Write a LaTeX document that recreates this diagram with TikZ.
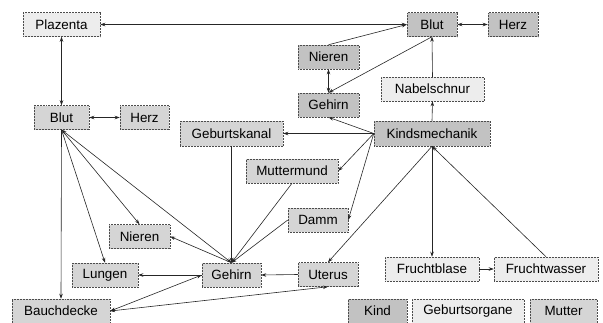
\documentclass[tikz,border=0pt]{standalone}
\usepackage{fontspec}
\setmainfont{Liberation Sans}
\usetikzlibrary{arrows.meta}
\definecolor{kindc}{HTML}{C2C2C2}
\definecolor{mutterc}{HTML}{D5D5D5}
\definecolor{gebc}{HTML}{EDEDED}
\begin{document}
\begin{tikzpicture}[x=1pt,y=-1pt,
  box/.style={draw=black!70, densely dotted, line width=0.5pt, inner sep=0pt,
    minimum height=24pt, font=\fontsize{13.4}{15}\selectfont, text=black},
  kind/.style={box, fill=kindc},
  mutter/.style={box, fill=mutterc},
  geb/.style={box, fill=gebc},
  conn/.style={line width=0.6pt, draw=black!85, -{Stealth[length=5pt,width=3.5pt]}},
  bconn/.style={line width=0.6pt, draw=black!85, {Stealth[length=5pt,width=3.5pt]}-{Stealth[length=5pt,width=3.5pt]}},
  plain/.style={line width=0.6pt, draw=black!85}]
\useasboundingbox (0,0) rectangle (603,322);
% nodes
\node[geb, minimum width=77pt] (plaz) at (61.5,24.5) {Plazenta};
\node[kind, minimum width=50pt] (blutK) at (432,24.5) {Blut};
\node[kind, minimum width=50pt] (herzK) at (513,24.5) {Herz};
\node[kind, minimum width=61pt] (nierK) at (328.5,57) {Nieren};
\node[kind, minimum width=61pt] (gehK) at (328.5,105) {Gehirn};
\node[geb, minimum width=103pt] (nabel) at (432.5,89) {Nabelschnur};
\node[kind, minimum width=116pt, minimum height=25pt] (kinds) at (432,133.5) {Kindsmechanik};
\node[mutter, minimum width=55pt] (blutM) at (61.5,117.5) {Blut};
\node[mutter, minimum width=49pt] (herzM) at (144.5,117.5) {Herz};
\node[mutter, minimum width=103pt, minimum height=25pt] (geburts) at (231.5,133.5) {Geburtskanal};
\node[mutter, minimum width=92pt] (mutm) at (292,171) {Muttermund};
\node[mutter, minimum width=60pt] (damm) at (318,220) {Damm};
\node[mutter, minimum width=61pt] (nierM) at (139.5,236.5) {Nieren};
\node[mutter, minimum width=66pt] (lung) at (105,275) {Lungen};
\node[mutter, minimum width=59pt] (gehM) at (231.5,275) {Gehirn};
\node[mutter, minimum width=60pt] (uter) at (328,274.5) {Uterus};
\node[mutter, minimum width=98pt] (bauch) at (61,311) {Bauchdecke};
\node[geb, minimum width=94pt] (fblase) at (432,269) {Fruchtblase};
\node[geb, minimum width=104pt] (fwasser) at (546,269) {Fruchtwasser};
% legend
\node[kind, minimum width=59pt] (lk) at (377.5,311) {Kind};
\node[geb, minimum width=112pt] (lg) at (468,311) {Geburtsorgane};
\node[mutter, minimum width=67pt] (lm) at (563.5,311) {Mutter};
% connectors
\draw[bconn] (plaz.east) -- (blutK.west);
\draw[bconn] (plaz.south) -- (blutM.north);
\draw[bconn] (blutM.east) -- (herzM.west);
\draw[bconn] (blutK.east) -- (herzK.west);
\draw[conn] (nierK.north) -- (blutK.west);
\draw[conn] (blutK.south) -- (gehK.north);
\draw[bconn] (nierK.south) -- (gehK.north);
\draw[conn] (nabel.north) -- (blutK.south);
\draw[conn] (kinds.north) -- (nabel.south);
\draw[conn] (kinds.west) -- (gehK.south);
\draw[conn] (kinds.west) -- (geburts.east);
\draw[conn] (kinds.west) -- (mutm.east);
\draw[conn] (kinds.west) -- (damm.east);
\draw[conn] (kinds.south) -- (uter.north);
\draw[conn] (kinds.south) -- (fblase.north);
\draw[conn] (fwasser.north) -- (kinds.south);
\draw[conn] (fblase.east) -- (fwasser.west);
\draw[conn] (geburts.south) -- (gehM.north);
\draw[conn] (mutm.south) -- (gehM.north);
\draw[conn] (damm.west) -- (gehM.north);
\draw[bconn] (blutM.south) -- (gehM.north);
\draw[conn] (gehM.north) -- (nierM.east);
\draw[conn] (blutM.south) -- (nierM.north);
\draw[conn] (blutM.south) -- (lung.north);
\draw[conn] (blutM.south) -- (bauch.north);
\draw[conn] (gehM.west) -- (lung.east);
\draw[conn] (uter.west) -- (gehM.east);
\draw[bconn] (gehM.west) -- (bauch.east);
\draw[bconn] (bauch.east) -- (uter.south);
\end{tikzpicture}
\end{document}
